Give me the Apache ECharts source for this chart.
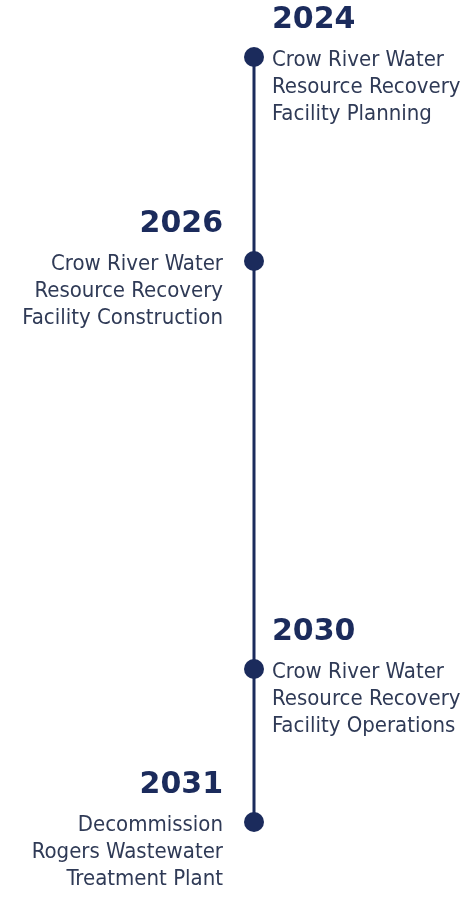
<!DOCTYPE html>
<html><head><meta charset="utf-8">
<script src="https://cdn.jsdelivr.net/npm/echarts@6/dist/echarts.min.js"></script>
<style>html,body{margin:0;padding:0;background:#fff}#c{width:472px;height:900px}</style>
</head><body><div id="c"></div>
<script>
// Milestones (timeline value = point in time, in years)
var years = ['2024', '2026', '2030', '2031'];
var timeValues = [2024, 2026, 2030, 2031.5];
var descriptions = [
  ['Crow River Water', 'Resource Recovery', 'Facility Planning'],
  ['Crow River Water', 'Resource Recovery', 'Facility Construction'],
  ['Crow River Water', 'Resource Recovery', 'Facility Operations'],
  ['Decommission', 'Rogers Wastewater', 'Treatment Plant']
];
var sides = ['right', 'left', 'right', 'left'];

var NAVY = '#1b2b5c';
var BODY = '#2f3a56';
var chart = echarts.init(document.getElementById('c'), null, {renderer: 'canvas'});

var bodyData = years.map(function (y, i) {
  var right = sides[i] === 'right';
  return {
    value: [0, timeValues[i]],
    label: {
      show: true,
      position: sides[i],
      distance: right ? 8 : 21,
      offset: [0, 30],
      formatter: descriptions[i].join('\n'),
      fontFamily: '"DejaVu Sans Condensed", Roboto, sans-serif',
      fontSize: 22,
      lineHeight: 27,
      color: BODY,
      align: right ? 'left' : 'right'
    }
  };
});
var yearData = years.map(function (y, i) {
  var right = sides[i] === 'right';
  return {
    value: [0, timeValues[i]],
    label: {
      show: true,
      position: sides[i],
      distance: right ? 8 : 21,
      offset: [0, -37],
      formatter: y,
      fontFamily: 'DejaVu Sans',
      fontWeight: 'bold',
      fontSize: 30,
      lineHeight: 40,
      color: NAVY,
      align: right ? 'left' : 'right'
    }
  };
});

chart.setOption({
  animation: false,
  grid: {left: 204, right: 168, top: 57, bottom: 78},
  xAxis: {type: 'value', min: -1, max: 1, show: false},
  yAxis: {type: 'value', inverse: true, min: 2024, max: 2031.5, show: false},
  series: [{
    type: 'line',
    data: bodyData,
    clip: false,
    symbol: 'circle',
    symbolSize: 20,
    itemStyle: {color: NAVY},
    lineStyle: {color: NAVY, width: 3}
  }, {
    type: 'scatter',
    data: yearData,
    clip: false,
    symbol: 'circle',
    symbolSize: 20,
    silent: true,
    emphasis: {disabled: true},
    itemStyle: {color: 'rgba(0,0,0,0)', opacity: 1}
  }]
});
</script></body></html>
